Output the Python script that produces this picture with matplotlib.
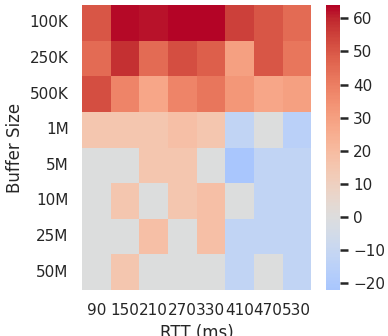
import numpy as np
import matplotlib
matplotlib.use("Agg")
import matplotlib.pyplot as plt
import seaborn as sns

buffer_sizes = ["100K", "250K", "500K", "1M", "5M", "10M", "25M", "50M"]
rtts = [90, 150, 210, 270, 330, 410, 470, 530]

# throughput gain (%) per buffer size (rows) and RTT (columns)
gain = np.array([
    [50, 63, 62, 64, 64, 55, 50, 45],
    [45, 58, 45, 52, 48, 30, 50, 42],
    [52, 38, 28, 38, 42, 33, 28, 30],
    [15, 15, 15, 18, 15, -12, 0, -15],
    [0, 0, 15, 15, 0, -22, -12, -12],
    [0, 15, 0, 15, 18, 0, -12, -12],
    [0, 0, 18, 0, 18, -12, -12, -12],
    [0, 15, 0, 0, 0, -12, 0, -12],
])

sns.set_theme(style="white")

fig = plt.figure(figsize=(3.88, 3.36), dpi=100)
ax = fig.add_axes([0.211, 0.137, 0.591, 0.848])
cax = fig.add_axes([0.840, 0.137, 0.036, 0.848])

sns.heatmap(gain, cmap="coolwarm", center=0, ax=ax, cbar_ax=cax,
            xticklabels=rtts, yticklabels=buffer_sizes)
ax.set_xlabel("RTT (ms)")
ax.set_ylabel("Buffer Size")
ax.tick_params(axis="y", rotation=0)
ax.tick_params(axis="x", rotation=0)

# colorbar tick marks
cax.tick_params(axis="y", right=True, length=6, width=1.8, color="#262626")

fig.savefig("out.png", dpi=100)
